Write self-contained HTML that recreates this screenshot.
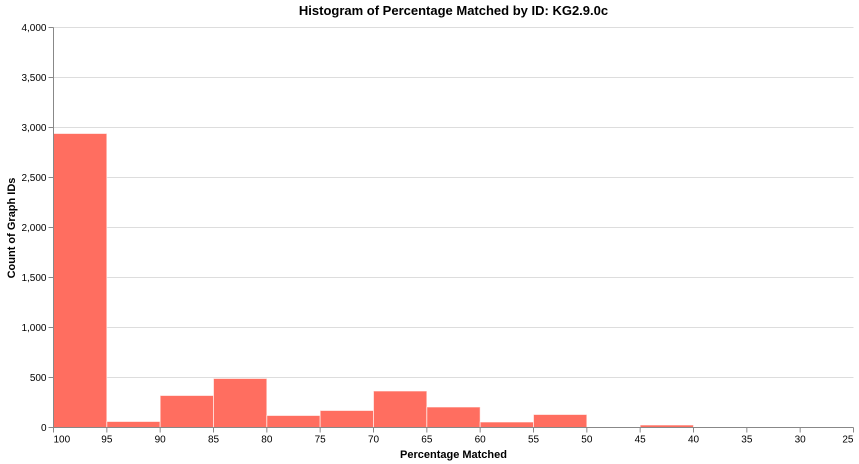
<!DOCTYPE html>
<html><head><meta charset="utf-8"><style>
body{margin:0;background:#fff;}
svg{display:block;font-family:"Liberation Sans",Helvetica,Arial,sans-serif;}
</style></head><body>
<svg id="chart" width="859" height="464"></svg>
<script>
const binStarts = [100,95,90,85,80,75,70,65,60,55,50,45,40,35,30];
const counts = [2940,60,320,490,120,170,365,205,55,130,0,25,5,5,5];
const xTicks = [100,95,90,85,80,75,70,65,60,55,50,45,40,35,30,25];
const yTicks = [0,500,1000,1500,2000,2500,3000,3500,4000];

const L=53.5,R=853.5,T=27.5,B=427.5;
const x=v=>L+(100-v)/(100-25)*(R-L);
const y=v=>B-v/4000*(B-T);
const NS="http://www.w3.org/2000/svg";
const svg=document.getElementById('chart');
function mk(tag,attrs,parent){const e=document.createElementNS(NS,tag);for(const k in attrs)e.setAttribute(k,attrs[k]);(parent||svg).appendChild(e);return e;}
const fmt=v=>v.toLocaleString('en-US');

const grid=mk('g',{});


yTicks.forEach(t=>{
  const l=mk('line',{x1:L,x2:R,y1:y(t),y2:y(t),stroke:'#ddd','stroke-width':1},grid);
  
  
});

const bars=mk('g',{});


binStarts.forEach((s,i)=>{
  const x0=x(s),x1=x(s-5),h=B-y(counts[i]);
  if(counts[i]<=0)return;
  const r=mk('rect',{x:x0,y:y(counts[i]),width:x1-x0,height:h,fill:'#ff6e60',stroke:'#fff','stroke-opacity':0.6,'stroke-width':1},bars);
  
  
});

const yAxis=mk('g',{});


mk('line',{x1:L,x2:L,y1:T,y2:B,stroke:'#888'},yAxis);
yTicks.forEach(t=>{
  mk('line',{x1:L-5,x2:L,y1:y(t),y2:y(t),stroke:'#888'},yAxis);
  const tx=mk('text',{x:L-7,y:y(t)+3.5,'text-anchor':'end','font-size':10,fill:'#000'},yAxis);
  tx.textContent=fmt(t);
  
  
});
const yt=mk('text',{x:0,y:0,transform:'translate(15,228) rotate(-90)','text-anchor':'middle','font-size':11,'font-weight':'bold'});
yt.textContent='Count of Graph IDs';



const xAxis=mk('g',{});


mk('line',{x1:L,x2:R,y1:B,y2:B,stroke:'#888'},xAxis);
xTicks.forEach((t,i)=>{
  mk('line',{x1:x(t),x2:x(t),y1:B,y2:B+5,stroke:'#888'},xAxis);
  const anchor=i===0?'start':(i===xTicks.length-1?'end':'middle');
  const tx=mk('text',{x:x(t),y:B+15,'text-anchor':anchor,'font-size':10,fill:'#000'},xAxis);
  tx.textContent=t;
  
  
});
const xt=mk('text',{x:(L+R)/2,y:458,'text-anchor':'middle','font-size':11,'font-weight':'bold'});
xt.textContent='Percentage Matched';



const title=mk('text',{x:(L+R)/2,y:15,'text-anchor':'middle','font-size':13,'font-weight':'bold'});
title.textContent='Histogram of Percentage Matched by ID: KG2.9.0c';


</script>
</body></html>
